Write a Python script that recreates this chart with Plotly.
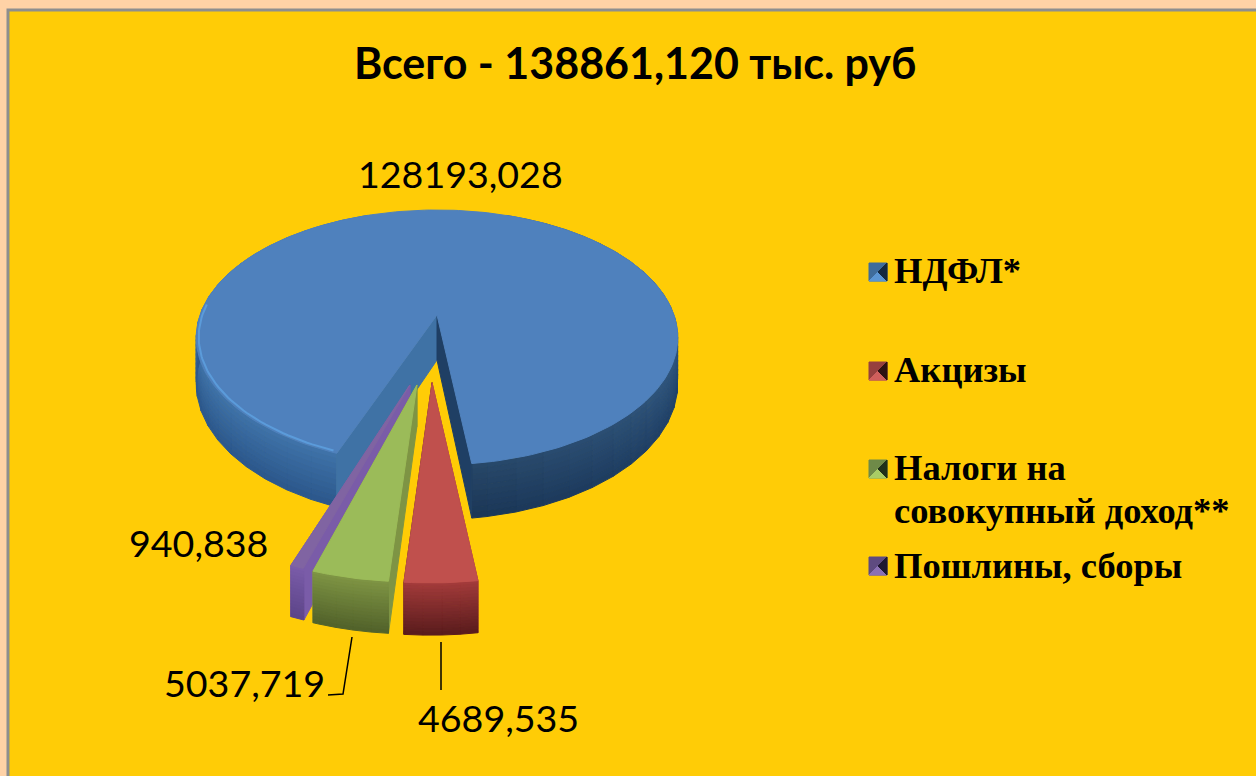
import numpy as np
import plotly.graph_objects as go

categories = ["НДФЛ*", "Акцизы", "Налоги на<br>совокупный доход**", "Пошлины, сборы"]
values = [128193.028, 4689.535, 5037.719, 940.838]
total_label = "Всего - 138861,120 тыс. руб"

face = ["#4F81BD", "#C0504D", "#9BBB59", "#8064A2"]
wall_top = ["#3F72A8", "#A23A3A", "#7E9444", "#7A5CA8"]
wall_bot = ["#2A568A", "#571A1C", "#50602A", "#5C4488"]
key_top = ["#3F6C9A", "#96403E", "#6F8A48", "#5E4B80"]
key_right = ["#15283E", "#2E1212", "#20301A", "#1E1830"]
key_bottom = ["#5B95D2", "#D05F5C", "#A9CC66", "#8A70B4"]

K, RX, A, X0, Y0, D = 0.176, 237.0, 123.5, 437.0, 315.0, 45.0
offset_u = [0.0, -0.019, -0.077, -0.104]
offset_v = [0.0, 0.50, 0.515, 0.515]
radius = [1.0, 1.07, 1.05, 1.04]
depth = [1.0, 0.84, 0.84, 0.84]
tilt = [0.0, -0.8, -1.3, -1.0]
START = 200.7

def proj(u, v, z=0.0):
    u, v = np.asarray(u, float), np.asarray(v, float)
    s = 1 / (1 - K * v)
    return X0 + RX * u * s, Y0 + A * v * s + D * z * s

def rgb(h):
    return np.array([int(h[i:i + 2], 16) for i in (1, 3, 5)], float)

fig = go.Figure()

def poly(x, y, color):
    fig.add_trace(go.Scatter(x=list(x), y=list(y), mode="lines", fill="toself",
                             fillcolor=color, line=dict(color=color, width=1),
                             hoverinfo="skip", showlegend=False))

def polar(theta, r, cu, cv):
    t = np.radians(theta)
    return cu + r * np.sin(t), cv - r * np.cos(t)

# slice angles derived from the values
sweep = np.array(values) / sum(values) * 360
starts = START + np.concatenate([[0], np.cumsum(sweep)[:-1]])
ends = starts + sweep

def rim(a0, a1, r, cu, cv, top, bot, dz=1.0, n=10, step=6.0, shade=None):
    grid = np.arange(a0, a1, step).tolist() + [a1]
    for g0, g1 in zip(grid[:-1], grid[1:]):
        for b in range(n):
            z0, z1 = b / n, (b + 1) / n
            th = np.linspace(g0, g1, 3)
            u, v = polar(th, r, cu, cv)
            x0, y0 = proj(u, v, z0 * dz)
            x1, y1 = proj(u, v, z1 * dz)
            f = 1.0 if shade is None else shade((g0 + g1) / 2 % 360)
            c = (rgb(top) * (1 - z0) + rgb(bot) * z0) * f
            poly(np.r_[x0, x1[::-1], x0[0]], np.r_[y0, y1[::-1], y0[0]],
                 "rgb(%d,%d,%d)" % tuple(c))

def cut_wall(a, r, cu, cv, color, dz=1.0):
    ou, ov = polar(a, r, cu, cv)
    xs, ys = [], []
    for uu, vv, z in [(cu, cv, 0), (ou, ov, 0), (ou, ov, dz), (cu, cv, dz), (cu, cv, 0)]:
        px, py = proj(uu, vv, z)
        xs.append(float(px)); ys.append(float(py))
    poly(xs, ys, color)

def main_shade(th):
    # right side of the rim falls into shadow
    if th > 195:
        return 1.0
    if th > 120:
        return 0.62 + 0.12 * (173 - min(th, 173)) / 53
    return 0.74 + 0.1 * (120 - th) / 100

# main slice: rim, inner walls, face
rim(20, ends[0] - 360, 1.0, 0, 0, wall_top[0], wall_bot[0], shade=main_shade)
rim(starts[0], 340, 1.0, 0, 0, wall_top[0], wall_bot[0], shade=main_shade)
cut_wall(starts[0], 1.0, 0, 0, "#3F72A5")
cut_wall(ends[0] - 360, 1.0, 0, 0, "#1F3F64")
th = np.linspace(starts[0], ends[0], 240)
u, v = polar(th, 1.0, 0, 0)
fx, fy = proj(np.r_[0, u, 0], np.r_[0, v, 0])
poly(fx, fy, face[0])
u2, v2 = polar(np.linspace(starts[0] + 1, 275, 60), 0.99, 0, 0)
hx, hy = proj(u2, v2)
fig.add_trace(go.Scatter(x=hx, y=hy, mode="lines", line=dict(color="#5B9BDA", width=2),
                         hoverinfo="skip", showlegend=False))

# exploded slices, drawn left to right
for i in [3, 2, 1]:
    cu, cv = offset_u[i], offset_v[i]
    r = radius[i]
    a0, a1 = starts[i] + tilt[i], ends[i] + tilt[i]
    cut_wall(a0, r, cu, cv, wall_top[i], depth[i])
    cut_wall(a1, r, cu, cv, wall_bot[i] if i == 1 else wall_top[i], depth[i])
    rim(a0, a1, r, cu, cv, wall_top[i], wall_bot[i], dz=depth[i], n=16, step=3.0)
    th = np.linspace(a0, a1, 20)
    u, v = polar(th, r, cu, cv)
    fx, fy = proj(np.r_[cu, u, cu], np.r_[cv, v, cv])
    poly(fx, fy, face[i])

# leader lines
fig.add_trace(go.Scatter(x=[352, 343, 328], y=[637, 694, 695], mode="lines",
                         line=dict(color="black", width=1.5), hoverinfo="skip", showlegend=False))
fig.add_trace(go.Scatter(x=[441, 441], y=[642, 690], mode="lines",
                         line=dict(color="black", width=1.5), hoverinfo="skip", showlegend=False))

# legend keys
key_y = [272, 371, 469, 566]
key_x, hw = 878, 9
for i, ky in enumerate(key_y):
    poly([key_x - hw, key_x + hw, key_x + hw, key_x - hw, key_x - hw],
         [ky - hw, ky - hw, ky + hw, ky + hw, ky - hw], key_top[i])
    poly([key_x - hw, key_x + hw, key_x, key_x - hw],
         [ky + hw, ky + hw, ky, ky + hw], key_bottom[i])
    poly([key_x + hw, key_x + hw, key_x, key_x + hw],
         [ky - hw, ky + hw, ky, ky - hw], key_right[i])

def fmt(val):
    return f"{val:.3f}".replace(".", ",")

anns = [dict(x=635, y=62, text=f"<b>{total_label}</b>", font=dict(family="Lato", size=43, color="black"),
             xanchor="center", yanchor="middle", showarrow=False)]
label_pos = [(460, 173), (498, 717), (244, 682), (198, 542)]
for val, (lx, ly) in zip(values, label_pos):
    anns.append(dict(x=lx, y=ly, text=fmt(val), font=dict(family="Lato", size=37.6, color="black"),
                     xanchor="center", yanchor="middle", showarrow=False))
legend_y = [[270.5], [369.5], [467.5, 510.5], [565.5]]
for name, ys in zip(categories, legend_y):
    for part, ly in zip(name.split("<br>"), ys):
        anns.append(dict(x=892, y=ly, text=f"<b>{part}</b>", align="left",
                         font=dict(family="Liberation Serif", size=36.5, color="black"),
                         xanchor="left", yanchor="middle", showarrow=False))

shapes = [dict(type="rect", xref="x", yref="y", x0=8, y0=10, x1=1262, y1=784, layer="below",
               fillcolor="#FFCC06", line=dict(color="#8E8E8E", width=3))]

fig.update_layout(width=1256, height=776, margin=dict(l=0, r=0, t=0, b=0),
                  paper_bgcolor="#FFD2A6", plot_bgcolor="rgba(0,0,0,0)",
                  showlegend=False, annotations=anns, shapes=shapes,
                  xaxis=dict(range=[0, 1256], visible=False, fixedrange=True),
                  yaxis=dict(range=[776, 0], visible=False, fixedrange=True))
fig.write_html("out.html", post_script="document.body.style.margin='0';document.body.style.overflow='hidden';",
               config=dict(displayModeBar=False))
